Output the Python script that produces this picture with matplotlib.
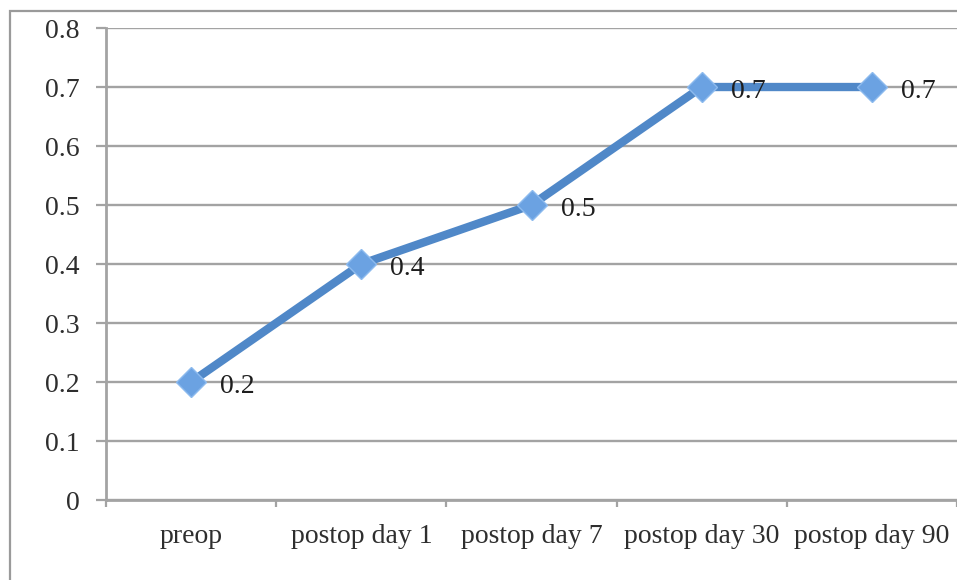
import matplotlib
matplotlib.use("Agg")
from matplotlib import pyplot as plt
from matplotlib.patches import Rectangle

categorias = ["preop", "postop day 1", "postop day 7", "postop day 30", "postop day 90"]
valores = [0.2, 0.4, 0.5, 0.7, 0.7]
yticks = [0, 0.1, 0.2, 0.3, 0.4, 0.5, 0.6, 0.7, 0.8]
ytick_labels = ["0", "0.1", "0.2", "0.3", "0.4", "0.5", "0.6", "0.7", "0.8"]

plt.rcParams['font.family'] = ['Liberation Serif', 'DejaVu Serif']

gris = "#a3a3a3"
azul_linea = "#5088c8"
azul_marca = "#6ba2e2"

fig = plt.figure(figsize=(9.57, 5.8), dpi=100)
ax = fig.add_axes([0.1108, 0.1379, 0.8892, 0.8138])

# borde del area del grafico
fig.patches.append(Rectangle((10 / 957, -0.1), 1.2, 1 - 11 / 580 + 0.1,
                             transform=fig.transFigure, fill=False,
                             edgecolor="#9a9a9a", linewidth=1.6))

x = list(range(len(categorias)))
ax.plot(x, valores, color=azul_linea, linewidth=6, marker="D", markersize=15,
        markerfacecolor=azul_marca, markeredgecolor="#8cbaee", markeredgewidth=1,
        solid_joinstyle="round", zorder=3)

for xi, v in zip(x, valores):
    ax.annotate(f"{v:.1f}", (xi, v), xytext=(21, -3), textcoords="offset points",
                ha="left", va="center", fontsize=20, color="#1e1e1e", zorder=4)

ax.set_xlim(-0.5, len(categorias) - 0.5)
ax.set_ylim(0, 0.8)
ax.set_yticks(yticks)
ax.set_yticklabels(ytick_labels)
ax.set_xticks(x)
ax.set_xticklabels(categorias)
ax.set_xticks([i - 0.5 for i in range(len(categorias) + 1)], minor=True)

ax.tick_params(axis="y", length=7, width=1.6, color=gris, pad=12, labelsize=20,
               labelcolor="#2e2e2e")
ax.tick_params(axis="x", which="major", length=0, pad=17, labelsize=20,
               labelcolor="#2e2e2e")
ax.tick_params(axis="x", which="minor", length=5, width=1.6, color=gris)

ax.grid(axis="y", color=gris, linewidth=1.7)
ax.set_axisbelow(True)
for lado in ["top", "right"]:
    ax.spines[lado].set_visible(False)
for lado in ["left", "bottom"]:
    ax.spines[lado].set_color(gris)
    ax.spines[lado].set_linewidth(2)

fig.savefig("out.png", dpi=100)
